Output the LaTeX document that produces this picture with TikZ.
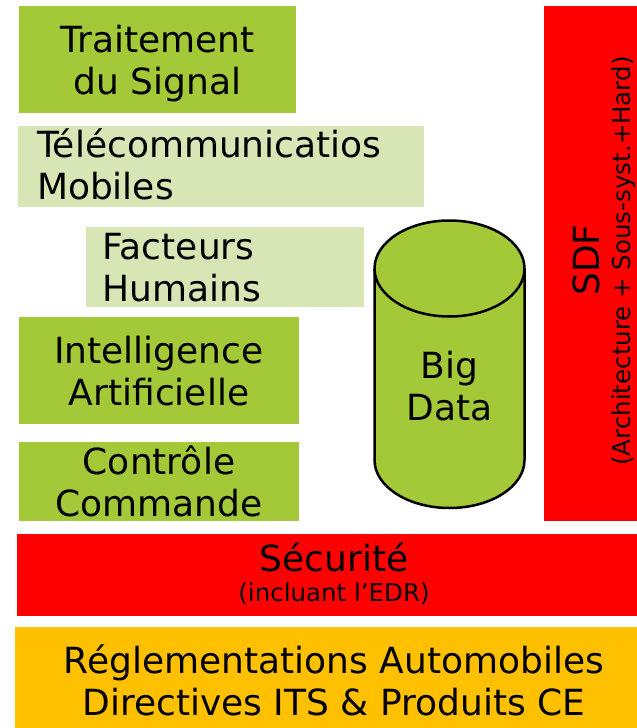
\documentclass[tikz,border=0pt]{standalone}
\usepackage{fontspec}
\setmainfont{DejaVu Sans}
\definecolor{leafgreen}{HTML}{A3C838}
\definecolor{palegreen}{HTML}{D8E6B5}
\definecolor{alertred}{HTML}{FF0000}
\definecolor{amber}{HTML}{FFC000}
\begin{document}
\begin{tikzpicture}[x=1pt, y=-1pt,
  blk/.style={anchor=north west, inner sep=0pt, outer sep=0pt, draw=none},
  bigtxt/.style={font=\fontsize{36}{42}\selectfont, inner sep=0pt, outer sep=0pt, text=black},
  smalltxt/.style={font=\fontsize{24.5}{29}\selectfont, inner sep=0pt, outer sep=0pt, text=black},
]
\useasboundingbox (0,0) rectangle (637,728);

% left column of competence blocks
\node[blk, fill=leafgreen, minimum width=277pt, minimum height=107pt] (ts) at (19,6) {};
\node[blk, fill=palegreen, minimum width=406pt, minimum height=81pt] (tm) at (18,126) {};
\node[blk, fill=palegreen, minimum width=278pt, minimum height=80pt] (fh) at (86,227) {};
\node[blk, fill=leafgreen, minimum width=280pt, minimum height=107pt] (ia) at (19,317) {};
\node[blk, fill=leafgreen, minimum width=280pt, minimum height=79pt] (cc) at (19,442) {};

% vertical bar on the right and the two horizontal bars
\node[blk, fill=alertred, minimum width=93pt, minimum height=515pt] (sdf) at (544,6) {};
\node[blk, fill=alertred, minimum width=620pt, minimum height=82pt] (sec) at (17,534) {};
\node[blk, fill=amber, minimum width=622pt, minimum height=101pt] (reg) at (15,627) {};

% Big Data cylinder
\coordinate (cyltop) at (449.5,268.5);
\coordinate (cylbot) at (449.5,460);
\path[fill=leafgreen, draw=black, line width=2.5pt, line join=round]
  ([xshift=-75pt]cyltop) -- ([xshift=-75pt]cylbot)
  arc[start angle=180, end angle=360, x radius=75pt, y radius=48pt]
  -- ([xshift=75pt]cyltop)
  arc[start angle=0, end angle=180, x radius=75pt, y radius=48pt] -- cycle;
\draw[line width=2.5pt] ([xshift=-75pt]cyltop)
  arc[start angle=180, end angle=360, x radius=75pt, y radius=48pt];

% labels
\node[bigtxt, align=center] (ts-t) at (157.5,64.6) {\strut Traitement\\\strut du Signal};
\node[bigtxt, align=left, anchor=west] (tm-t) at (37,169.6) {\strut Télécommunicatios\\\strut Mobiles};
\node[bigtxt, align=left, anchor=west] (fh-t) at (102.5,272.1) {\strut Facteurs\\\strut Humains};
\node[bigtxt, align=center] (ia-t) at (159,375.6) {\strut Intelligence\\\strut Artificielle};
\node[bigtxt, align=center] (cc-t) at (159,486.6) {\strut Contrôle\\\strut Commande};
\node[bigtxt, align=center] (bd-t) at (449.5,390.8) {\strut Big\\\strut Data};

\node[bigtxt, rotate=90, anchor=base] (sdf-t) at (599,260) {SDF};
\node[smalltxt, rotate=90, anchor=base] (sdf-s) at (630,261) {(Architecture + Sous-syst.+Hard)};

\node[bigtxt, anchor=base] (sec-t) at (334,571.7) {Sécurité};
\node[smalltxt, anchor=base] (sec-s) at (334,601.7) {(incluant l’EDR)};

\node[bigtxt, align=center] (reg-t) at (334,685.6) {\strut Réglementations Automobiles\\\strut Directives ITS \& Produits CE};
\end{tikzpicture}
\end{document}
